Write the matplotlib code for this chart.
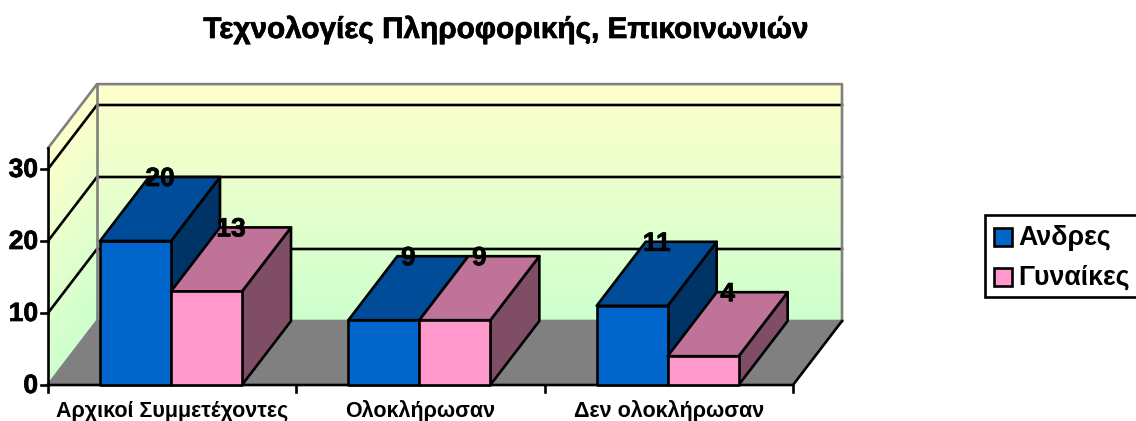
import matplotlib
matplotlib.use("Agg")
import matplotlib.pyplot as plt
import matplotlib.patheffects as pe
import numpy as np
from matplotlib.colors import LinearSegmentedColormap
from matplotlib.patches import Polygon, Rectangle

plt.rcParams['font.family'] = ['Liberation Sans', 'DejaVu Sans']
plt.rcParams['font.weight'] = 'bold'

title = "Τεχνολογίες Πληροφορικής, Επικοινωνιών"
categories = ["Αρχικοί Συμμετέχοντες", "Ολοκλήρωσαν", "Δεν ολοκλήρωσαν"]
series_names = ["Ανδρες", "Γυναίκες"]
men = [20, 9, 11]
women = [13, 9, 4]
y_ticks = [0, 10, 20, 30]

# Face colours: front, top, side
men_colors = ("#0066CC", "#004C99", "#003366")
women_colors = ("#FF99CC", "#BF7399", "#804D66")

# Layout of the fake 3D box, in pixels of the picture
LEFT, RIGHT = 48, 793
FLOOR = 385
PX_PER_UNIT = 7.2
DEPTH_X, DEPTH_Y = 49, -64
Y_MAX = 32.9
BAR_WIDTH = 71
BAR_START = 52
LW = 1.9

# Slightly heavier glyphs, the original text is rendered fatter
heavy = [pe.withStroke(linewidth=0.5, foreground="black")]


def val_y(v):
    return FLOOR - v * PX_PER_UNIT


def cat_x(i):
    return LEFT + i * (RIGHT - LEFT) / len(categories)


fig = plt.figure(figsize=(11.36, 4.21), dpi=100)
ax = fig.add_axes([0, 0, 1, 1])
ax.set_xlim(0, 1136)
ax.set_ylim(421, 0)
ax.axis("off")

# Walls with the yellow to green gradient
wall_cmap = LinearSegmentedColormap.from_list("wall", ["#CCFFCC", "#FFFFCC"])
t = np.linspace(0, 1, 60)
bottom, top = val_y(0) + DEPTH_Y, val_y(Y_MAX) + DEPTH_Y
wall_y = bottom + (top - bottom) * t
wall_x = np.array([LEFT + DEPTH_X, RIGHT + DEPTH_X])
X, Y = np.meshgrid(wall_x, wall_y)
C = np.column_stack([t, t])
ax.pcolormesh(X, Y, C, cmap=wall_cmap, shading="gouraud", zorder=1)

side_x = np.array([LEFT, LEFT + DEPTH_X])
X2 = np.tile(side_x, (60, 1))
Y2 = np.column_stack([wall_y - DEPTH_Y, wall_y])
ax.pcolormesh(X2, Y2, C, cmap=wall_cmap, shading="gouraud", zorder=1)

# Floor
ax.add_patch(Polygon([(LEFT, FLOOR), (RIGHT, FLOOR), (RIGHT + DEPTH_X, FLOOR + DEPTH_Y),
                      (LEFT + DEPTH_X, FLOOR + DEPTH_Y)], fc="#808080", ec="none", zorder=2))

# Gridlines on both walls
for v in y_ticks[1:]:
    ax.plot([LEFT, LEFT + DEPTH_X, RIGHT + DEPTH_X],
            [val_y(v), val_y(v) + DEPTH_Y, val_y(v) + DEPTH_Y], color="black", lw=LW, zorder=3)

# Grey outline of the walls
ax.plot([LEFT, LEFT + DEPTH_X, RIGHT + DEPTH_X, RIGHT + DEPTH_X],
        [val_y(Y_MAX), top, top, bottom], color="#808080", lw=LW, zorder=3)
ax.plot([LEFT, LEFT + DEPTH_X, RIGHT + DEPTH_X], [FLOOR, bottom, bottom], color="#808080", lw=LW, zorder=3)
ax.plot([LEFT + DEPTH_X, LEFT + DEPTH_X], [top, bottom], color="#808080", lw=LW, zorder=3)

# Axes lines and ticks
ax.plot([LEFT, LEFT], [val_y(Y_MAX), FLOOR], color="black", lw=LW, zorder=4)
ax.plot([LEFT, RIGHT, RIGHT + DEPTH_X], [FLOOR, FLOOR, bottom], color="black", lw=LW, zorder=4)
for v in y_ticks:
    ax.plot([LEFT - 7, LEFT], [val_y(v), val_y(v)], color="black", lw=LW, zorder=4)
    ax.text(38, val_y(v) + 1, str(v), ha="right", va="center", fontsize=19, zorder=6, path_effects=heavy)
for i in range(len(categories) + 1):
    ax.plot([cat_x(i), cat_x(i)], [FLOOR, FLOOR + 7], color="black", lw=LW, zorder=4)


def draw_bar(x0, value, colors):
    x1 = x0 + BAR_WIDTH
    y0 = val_y(value)
    front = [(x0, FLOOR), (x1, FLOOR), (x1, y0), (x0, y0)]
    top_face = [(x0, y0), (x1, y0), (x1 + DEPTH_X, y0 + DEPTH_Y), (x0 + DEPTH_X, y0 + DEPTH_Y)]
    side = [(x1, FLOOR), (x1 + DEPTH_X, FLOOR + DEPTH_Y), (x1 + DEPTH_X, y0 + DEPTH_Y), (x1, y0)]
    for pts, col in zip((side, top_face, front), (colors[2], colors[1], colors[0])):
        ax.add_patch(Polygon(pts, closed=True, fc=col, ec="black", lw=LW, joinstyle="round", zorder=5))


labels = []
for i in range(len(categories)):
    x0 = cat_x(i) + BAR_START
    draw_bar(x0, men[i], men_colors)
    draw_bar(x0 + BAR_WIDTH, women[i], women_colors)
    labels.append((x0 + BAR_WIDTH / 2 + DEPTH_X / 2, val_y(men[i]) + DEPTH_Y, men[i]))
    labels.append((x0 + 1.5 * BAR_WIDTH + DEPTH_X / 2, val_y(women[i]) + DEPTH_Y, women[i]))

for lx, ly, val in labels:
    ax.text(lx, ly + 2, str(val), ha="center", va="center", fontsize=19, zorder=7, path_effects=heavy)

for i, name in enumerate(categories):
    ax.text((cat_x(i) + cat_x(i + 1)) / 2, 411, name, ha="center", va="center", fontsize=15.5)

ax.text(506, 30, title, ha="center", va="center", fontsize=21.4, path_effects=heavy)

# Legend, runs off the right edge as in the picture
ax.add_patch(Rectangle((985, 215), 160, 82, fc="white", ec="black", lw=LW, zorder=5))
for name, colors, sy in zip(series_names, (men_colors, women_colors), (228, 268)):
    ax.add_patch(Rectangle((994, sy), 18, 18, fc=colors[0], ec="black", lw=LW, zorder=6))
    ax.text(1018, sy + 10, name, ha="left", va="center", fontsize=19.3, zorder=6)

fig.savefig("out.png", dpi=100)
